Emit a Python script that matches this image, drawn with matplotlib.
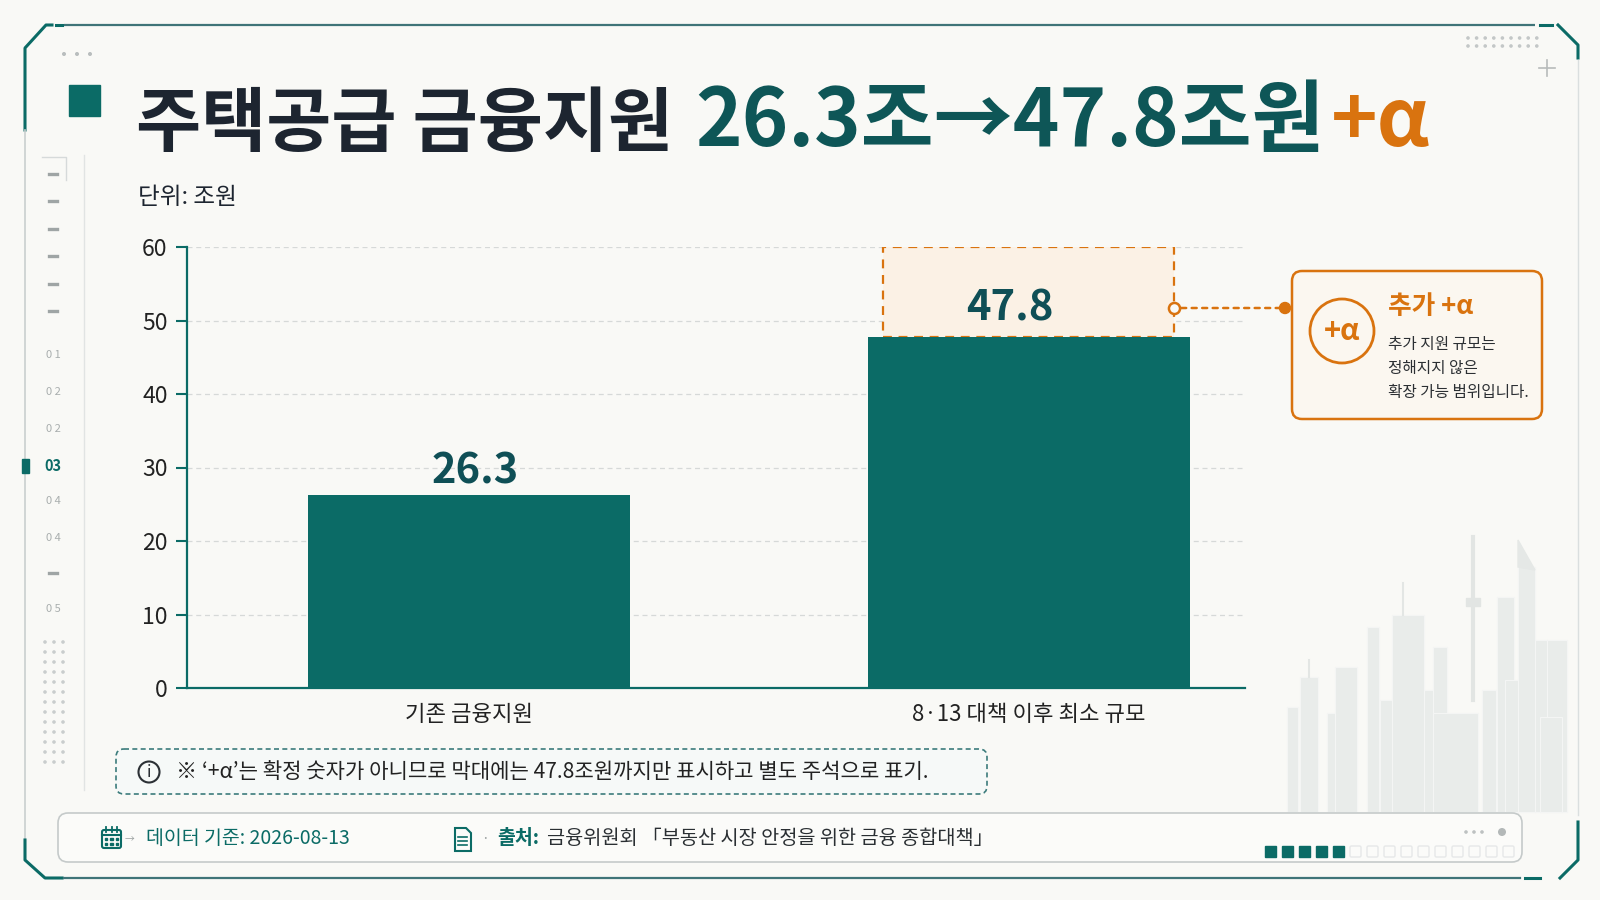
import matplotlib
matplotlib.use('Agg')
import matplotlib.pyplot as plt
from matplotlib.patches import FancyBboxPatch, Rectangle, Circle, Polygon

plt.rcParams['font.family'] = ['Noto Sans CJK KR', 'DejaVu Sans']

# ---------------- data ----------------
categories = ['기존 금융지원', '8·13 대책 이후 최소 규모']
values = [26.3, 47.8]
value_labels = ['26.3', '47.8']
y_ticks = [0, 10, 20, 30, 40, 50, 60]
alpha_upper = 60          # dashed "+α" range upper bound shown on chart
title_parts = ['주택공급 금융지원', '26.3조→47.8조원', '+α']
unit_text = '단위: 조원'
note_text = '※ ‘+α’는 확정 숫자가 아니므로 막대에는 47.8조원까지만 표시하고 별도 주석으로 표기.'
callout_title = '추가 +α'
callout_lines = ['추가 지원 규모는', '정해지지 않은', '확장 가능 범위입니다.']
data_date = '데이터 기준: 2026-08-13'
source_label = '출처:'
source_text = '금융위원회 「부동산 시장 안정을 위한 금융 종합대책」'
nav_labels = ['0 1', '0 2', '0 2', '03', '0 4', '0 4', '', '0 5']
nav_active = 3

# ---------------- colours ----------------
BG = '#F9F9F6'
TEAL = '#0B6B66'
TEAL_DARK = '#0E5657'
DARK = '#1D2530'
ORANGE = '#D9730F'
GRID = '#D6D9D8'
LINE = '#3F7478'

fig = plt.figure(figsize=(16, 9), dpi=100)
fig.patch.set_facecolor(BG)

bg = fig.add_axes([0, 0, 1, 1])
bg.set_xlim(0, 1600)
bg.set_ylim(900, 0)
bg.axis('off')
bg.set_zorder(0)

# ---------------- frame ----------------
bg.plot([64, 1535], [25, 25], color=LINE, lw=1.6, solid_capstyle='butt')
bg.plot([25, 25, 46, 52], [130, 48, 25, 25], color=TEAL, lw=2.2)
bg.plot([56, 62], [25, 25], color=TEAL, lw=2.2)
bg.plot([1540, 1552], [25, 25], color=TEAL, lw=2.2)
bg.plot([1558, 1578, 1578], [25, 45, 58], color=TEAL, lw=2.2)
bg.plot([25, 25], [130, 840], color='#C9CFCF', lw=1.2)
bg.plot([25, 25, 45, 62], [840, 860, 878, 878], color=TEAL, lw=2.2)
bg.plot([64, 1520], [878, 878], color=LINE, lw=1.6)
bg.plot([1525, 1540], [878, 878], color=TEAL, lw=2.2)
bg.plot([1560, 1578, 1578], [878, 860, 822], color=TEAL, lw=2.2)
bg.plot([1578, 1578], [60, 815], color='#DADFDF', lw=1.0)
bg.plot([84, 84], [155, 790], color='#E1E4E3', lw=1.0)

# corner decorations
for i in range(3):
    bg.add_patch(Circle((64 + i * 13, 54), 1.3, color='#B9BEBE'))
for r in range(2):
    for c in range(9):
        bg.add_patch(Circle((1468 + c * 8.6, 38 + r * 8), 1.1, color='#C3C7C7'))
bg.plot([1539, 1555], [68, 68], color='#B7BBBB', lw=1.2)
bg.plot([1547, 1547], [60, 76], color='#B7BBBB', lw=1.2)

# ---------------- left navigation ----------------
bg.plot([42, 66, 66], [157, 157, 180], color='#D6DADA', lw=1.0)
for yy in [174, 201, 229, 256, 284, 311]:
    bg.plot([49, 57], [yy, yy], color='#9FA5A5', lw=2.4)
nav_y = [355, 392, 429, 466, 501, 538, 573, 609]
for i, (lab, yy) in enumerate(zip(nav_labels, nav_y)):
    if lab == '':
        bg.plot([49, 57], [yy, yy], color='#9FA5A5', lw=2.4)
        continue
    if i == nav_active:
        bg.text(53, yy, lab, fontsize=10.5, color=TEAL, fontweight='bold',
                ha='center', va='center')
        bg.add_patch(Rectangle((22, yy - 7), 7, 14, color=TEAL, zorder=5))
    else:
        bg.text(53, yy, lab, fontsize=8, color='#A9AEAE', ha='center', va='center')
for r in range(13):
    for c in range(3):
        bg.add_patch(Circle((45 + c * 9, 642 + r * 10), 1.1, color='#C9CDCD'))

# ---------------- title ----------------
bg.add_patch(Rectangle((69, 85), 31, 31, color=TEAL))
renderer = fig.canvas.get_renderer()
title_colors = [DARK, TEAL_DARK, ORANGE]
title_sizes = [51, 57, 57]
gaps = [22, 6, 0]
x = 136
for s, c, fs, g in zip(title_parts, title_colors, title_sizes, gaps):
    t = bg.text(x, 146, s, fontsize=fs, fontweight='bold', color=c,
                ha='left', va='baseline')
    bb = t.get_window_extent(renderer)
    x = bb.x1 + g

bg.text(138, 198, unit_text, fontsize=17, color=DARK, ha='left', va='center')

# ---------------- skyline (decorative) ----------------
buildings = [
    (1287, 11, 707), (1300, 18, 677), (1327, 13, 713), (1335, 22, 667),
    (1367, 12, 627), (1380, 12, 700), (1392, 32, 615), (1424, 10, 690),
    (1433, 14, 647), (1433, 45, 713), (1482, 14, 690), (1497, 17, 597),
    (1505, 14, 680), (1518, 17, 567), (1535, 12, 640), (1547, 20, 640),
    (1540, 22, 717),
]
for bx, bw, bt in buildings:
    bg.add_patch(Rectangle((bx, bt), bw, 812 - bt, facecolor='#E9ECEA',
                           edgecolor='#F4F5F4', lw=0.8, zorder=0.5))
bg.plot([1309, 1309], [660, 677], color='#E3E6E4', lw=1.5, zorder=0.5)
bg.plot([1403, 1403], [583, 615], color='#E3E6E4', lw=1.5, zorder=0.5)
bg.plot([1473, 1473], [537, 700], color='#E2E5E3', lw=3, zorder=0.5)
bg.add_patch(Rectangle((1466, 598), 14, 8, color='#E2E5E3', zorder=0.5))
bg.add_patch(Polygon([[1518, 567], [1518, 540], [1535, 570]], closed=True,
                     color='#E5E8E6', zorder=0.5))

# ---------------- chart ----------------
ax = fig.add_axes([187 / 1600, 1 - 688 / 900, (1245 - 187) / 1600, (688 - 247) / 900])
ax.set_facecolor('none')
ax.set_zorder(2)
xpos = list(range(len(categories)))
bar_w = 0.575
ax.bar(xpos, values, width=bar_w, color=TEAL, zorder=3)
ax.set_xlim(-0.504, 1.386)
ax.set_ylim(0, 60)
ax.set_yticks(y_ticks)
ax.set_yticklabels([str(v) for v in y_ticks])
ax.set_xticks(xpos)
ax.set_xticklabels(categories)
for sp in ['top', 'right']:
    ax.spines[sp].set_visible(False)
ax.spines['left'].set_color(TEAL)
ax.spines['left'].set_linewidth(1.6)
ax.spines['bottom'].set_color(TEAL)
ax.spines['bottom'].set_linewidth(1.6)
ax.tick_params(axis='y', length=8, width=1.5, color=TEAL, labelsize=16.5,
               labelcolor='#222222', pad=6)
ax.tick_params(axis='x', length=0, labelsize=16, labelcolor='#222222', pad=11)
ax.yaxis.grid(True, ls=(0, (4, 3)), color=GRID, lw=0.9, zorder=0)
ax.set_axisbelow(True)

# +α dashed range above the second bar
box_half = 0.26
ax.add_patch(Rectangle((xpos[1] - box_half, values[1]), 2 * box_half,
                       alpha_upper - values[1], facecolor='#FBF1E5',
                       edgecolor=ORANGE, ls=(0, (4, 3)), lw=1.6, zorder=2))

label_dx = [0.01, -0.035]
label_dy = [3.1, 3.8]
for xp, v, lab, dx, dy in zip(xpos, values, value_labels, label_dx, label_dy):
    ax.text(xp + dx, v + dy, lab, ha='center', va='center', fontsize=30,
            fontweight='bold', color='#0F4F56', zorder=5)

# connector from dashed box to callout
conn_y = 51.7
ax.plot([xpos[1] + box_half], [conn_y], marker='o', ms=8, mfc=BG, mec=ORANGE,
        mew=1.8, zorder=6, clip_on=False)
ax.annotate('', xy=(1284, 900 - 308), xycoords='figure pixels',
            xytext=(xpos[1] + box_half + 0.012, conn_y), textcoords='data',
            arrowprops=dict(arrowstyle='-', color=ORANGE, lw=1.8,
                            ls=(0, (2, 2.2)), shrinkA=0, shrinkB=0))
bg.add_patch(Circle((1285, 308), 5.5, color=ORANGE, zorder=6))

# ---------------- callout box ----------------
bg.add_patch(FancyBboxPatch((1292, 271), 250, 148,
                            boxstyle='round,pad=0,rounding_size=10',
                            facecolor='#FBF7F0', edgecolor=ORANGE, lw=1.8, zorder=3))
bg.add_patch(Circle((1342, 331), 32, facecolor='none', edgecolor=ORANGE, lw=2, zorder=4))
bg.text(1342, 331, '+α', fontsize=21, fontweight='bold', color=ORANGE,
        ha='center', va='center', zorder=5)
bg.text(1388, 307, callout_title, fontsize=18.5, fontweight='bold', color=ORANGE,
        ha='left', va='center', zorder=5)
for i, ln in enumerate(callout_lines):
    bg.text(1388, 344 + i * 24.5, ln, fontsize=11.3, color='#2B2F33',
            ha='left', va='center', zorder=5)

# ---------------- note box ----------------
bg.add_patch(FancyBboxPatch((116, 749), 871, 45,
                            boxstyle='round,pad=0,rounding_size=8',
                            facecolor='#F6F9F8', edgecolor='#3C7C7C', lw=1.2,
                            ls=(0, (3, 2)), zorder=3))
bg.add_patch(Circle((149, 772), 10.5, facecolor='none', edgecolor='#2B3035', lw=1.5, zorder=4))
bg.text(149, 772.5, 'i', fontsize=12, color='#2B3035', ha='center', va='center', zorder=5)
bg.text(176, 772, note_text, fontsize=15.2, color='#222222', ha='left', va='center', zorder=5)

# ---------------- footer ----------------
bg.add_patch(FancyBboxPatch((58, 813), 1464, 49,
                            boxstyle='round,pad=0,rounding_size=10',
                            facecolor='#FBFBF9', edgecolor='#C5CACA', lw=1.2, zorder=3))
# calendar icon
bg.add_patch(FancyBboxPatch((102, 830), 19, 18, boxstyle='round,pad=0,rounding_size=2',
                            facecolor='none', edgecolor=TEAL, lw=1.5, zorder=4))
bg.plot([102, 121], [835, 835], color=TEAL, lw=1.5, zorder=4)
for cx in [106, 111.5, 117]:
    bg.plot([cx, cx], [827, 832], color=TEAL, lw=1.3, zorder=4)
    for cy in [839, 844]:
        bg.add_patch(Rectangle((cx - 1.2, cy - 1.2), 2.4, 2.4, color=TEAL, zorder=4))
bg.text(129, 839, '→', fontsize=7, color='#9AA0A0', ha='center', va='center', zorder=4)
bg.text(146, 839, data_date, fontsize=14, color=TEAL, ha='left', va='center', zorder=5)
# document icon
bg.add_patch(Polygon([[455, 828], [466, 828], [471, 833], [471, 851], [455, 851]],
                     closed=True, facecolor='none', edgecolor=TEAL, lw=1.5, zorder=4))
for ly in [837, 841, 845]:
    bg.plot([458, 467], [ly, ly], color=TEAL, lw=1.2, zorder=4)
bg.text(485, 839, '·', fontsize=10, color='#9AA0A0', ha='center', va='center', zorder=4)
t = bg.text(497, 839, source_label, fontsize=14, color=TEAL, fontweight='bold',
            ha='left', va='center', zorder=5)
bb = t.get_window_extent(renderer)
bg.text(bb.x1 + 8, 839, source_text, fontsize=14.2, color='#2A2F33',
        ha='left', va='center', zorder=5)

# progress squares
for i in range(15):
    sx = 1265 + i * 17
    if i < 5:
        bg.add_patch(Rectangle((sx, 846), 11, 11, color=TEAL, zorder=4))
    else:
        bg.add_patch(FancyBboxPatch((sx, 846), 11, 11, boxstyle='round,pad=0,rounding_size=1.5',
                                    facecolor='none', edgecolor='#E6E8E8', lw=1, zorder=4))
for i in range(3):
    bg.add_patch(Circle((1466 + i * 8, 832), 1.1, color='#BDC1C1', zorder=4))
bg.add_patch(Circle((1502, 832), 3.3, color='#B3B8B8', zorder=4))

fig.savefig('out.png', dpi=100, facecolor=BG)
